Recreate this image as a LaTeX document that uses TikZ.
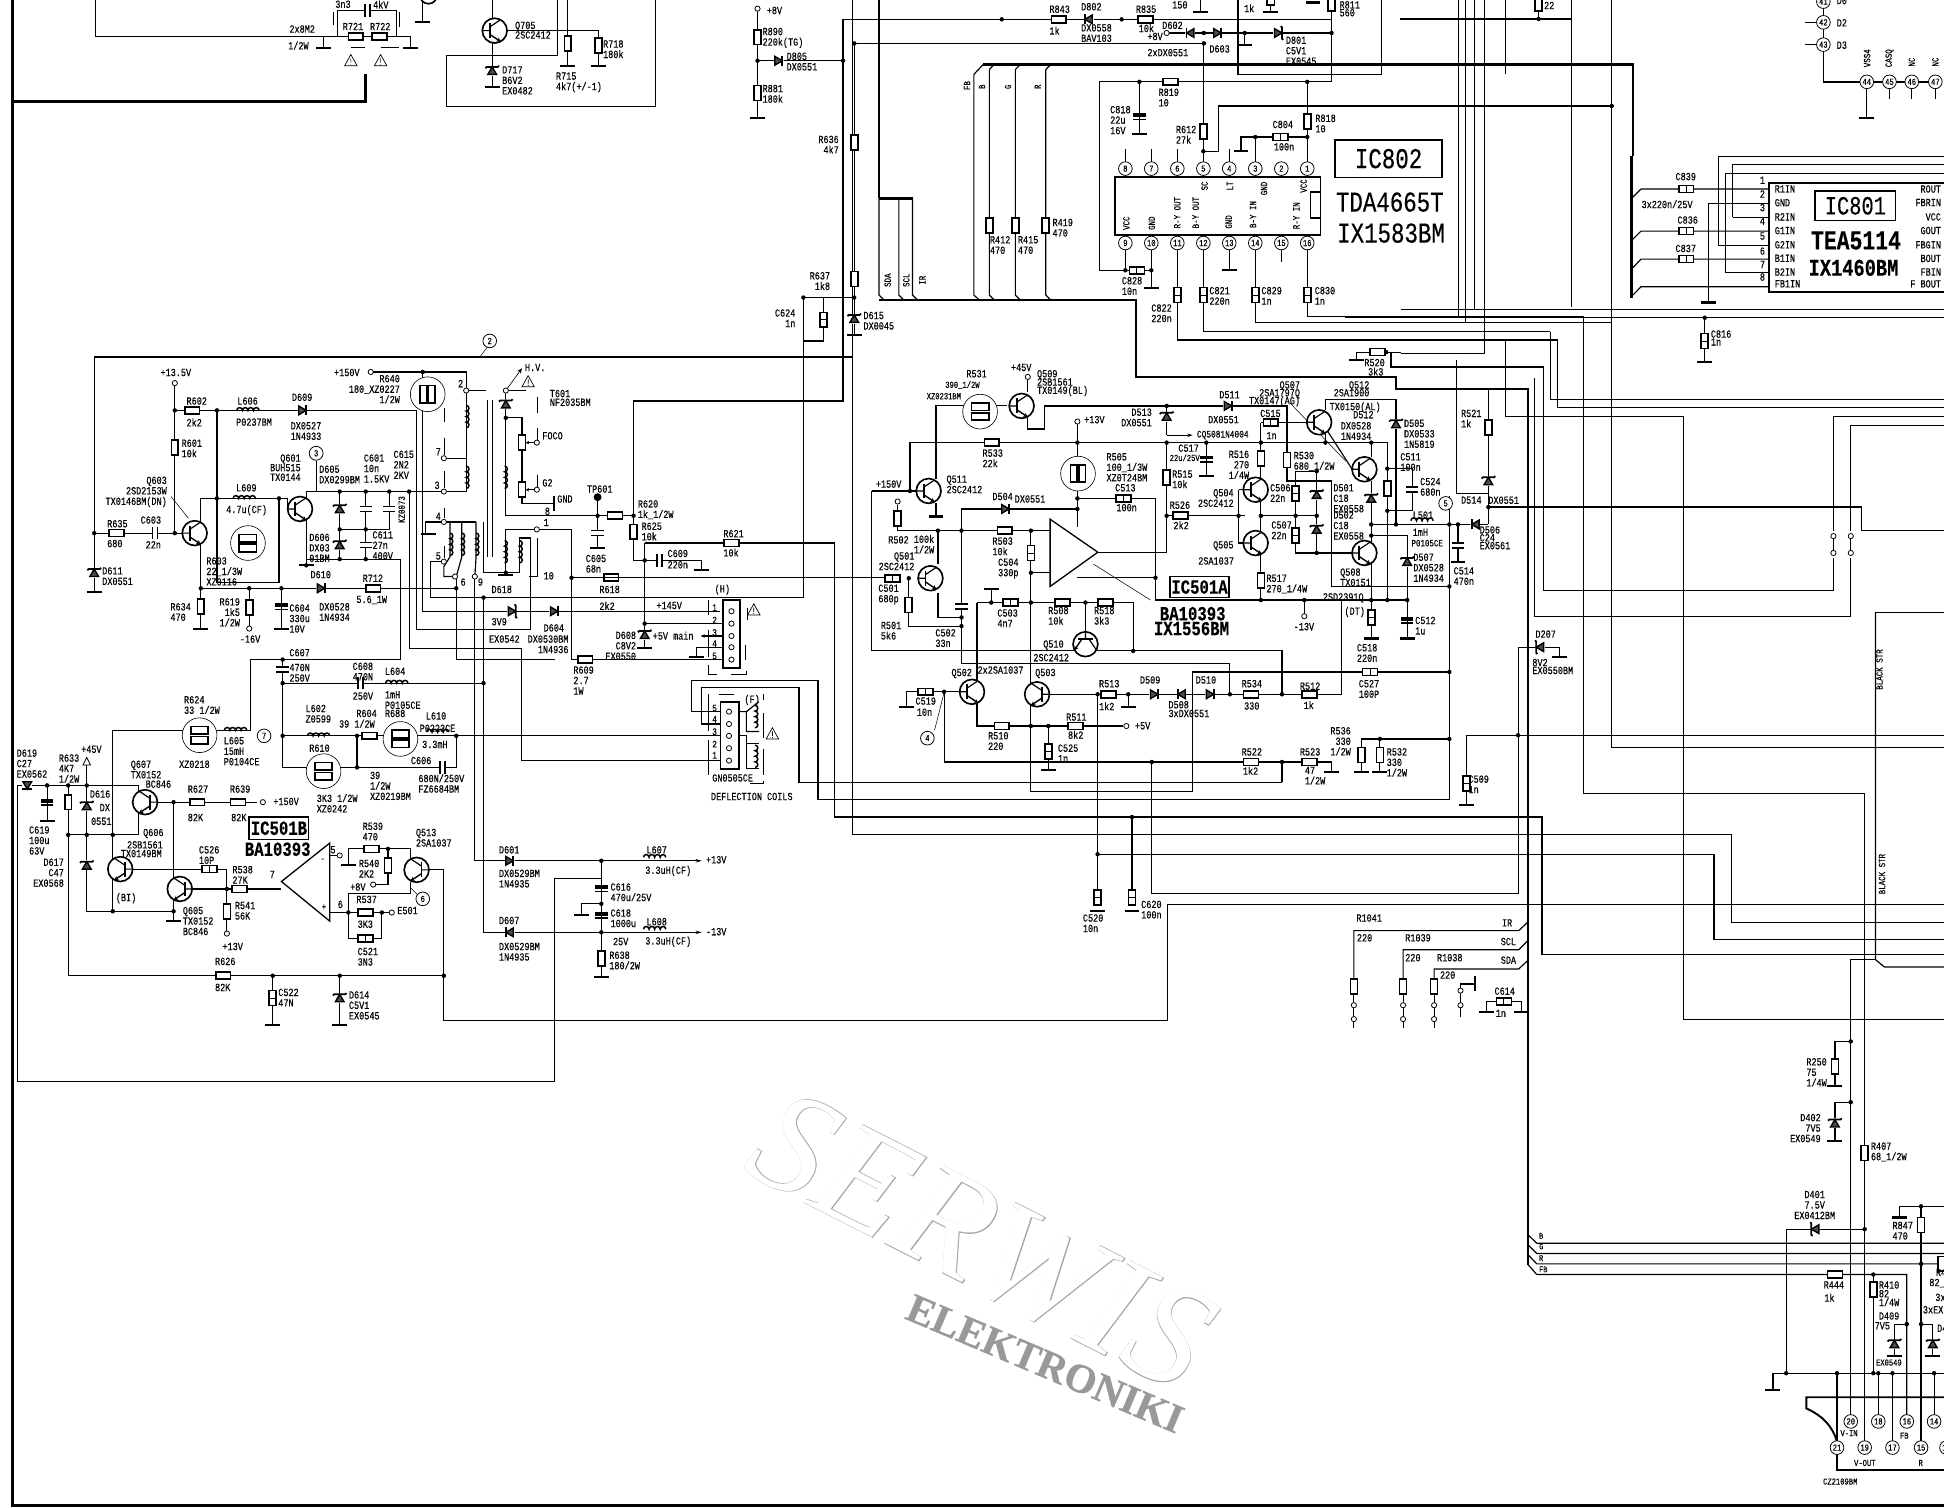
\documentclass[tikz,border=0pt]{standalone}
\usepackage{fontspec}
\setmainfont[FakeStretch=.78,FakeBold=.3]{Liberation Mono}
\newfontfamily\markfont[Scale=1,FakeBold=.6]{Liberation Serif}
\newfontfamily\markthin{Liberation Serif}
\usetikzlibrary{arrows.meta}

\begin{document}
\begin{tikzpicture}[
    x=.5mm, y=-.5mm, line width=1.35pt,
    lbl/.style={inner sep=0pt, anchor=north west, align=left, font=\fontsize{12.5}{12}\selectfont},
    lblr/.style={lbl, anchor=north east, align=right},
    lblc/.style={lbl, anchor=north, align=center},
    rlbl/.style={inner sep=0pt, rotate=90, font=\fontsize{11}{11}\selectfont},
    pinc/.style={circle, draw, fill=white, inner sep=0pt, minimum size=5.5mm, line width=.9pt, font=\fontsize{10.5}{10}\selectfont},
    bigbox/.style={draw, line width=1.8pt, inner sep=0pt, fill=white},
    biglbl/.style={inner sep=0pt, font=\fontsize{33}{33}\selectfont},
    boldlbl/.style={inner sep=0pt, font=\fontsize{23}{23}\selectfont\bfseries},
    comp/.style={draw, fill=white, line width=1.9pt},
    leader/.style={line width=.6pt},
    hair/.style={line width=.7pt},
    bus/.style={line width=2.6pt},
    resh/.pic={\path[comp] (-6,-2.8) rectangle (6,2.8);},
    resv/.pic={\path[comp] (-2.8,-6) rectangle (2.8,6);},
    caph/.pic={\path[comp] (-6,-2.8) rectangle (6,2.8); \draw[line width=1pt] (0,-2.8) -- (0,2.8);},
    capv/.pic={\path[comp] (-2.8,-6) rectangle (2.8,6); \draw[line width=1pt] (-2.8,0) -- (2.8,0);},
    plateh/.pic={\fill[white] (-2,-5) rectangle (2,5); \draw[line width=1.9pt] (-2,-5) -- (-2,5) (2,-5) -- (2,5);},
    platev/.pic={\fill[white] (-5,-2) rectangle (5,2); \draw[line width=1.9pt] (-5,-2) -- (5,-2) (-5,2) -- (5,2);},
    elcap/.pic={\fill (-5,-2.5) rectangle (5,.5); \draw[line width=1.9pt] (-5,2.5) -- (5,2.5);},
    gnd/.pic={\draw[line width=2.4pt] (-6,0) -- (6,0);},
    diode/.pic={\fill[white] (-4,-4) rectangle (4,4); \draw[line width=1.6pt, fill=black!70] (-3,-3.5) -- (3,0) -- (-3,3.5) -- cycle; \draw[line width=2pt] (3,-4) -- (3,4);},
    zener/.pic={\fill[white] (-4,-5) rectangle (4,5); \draw[line width=1.6pt, fill=black!70] (-3,-3.5) -- (3,0) -- (-3,3.5) -- cycle; \draw[line width=2pt] (2,-5.5) -- (3,-4.5) -- (3,4.5) -- (4,5.5);},
    trans/.pic={\draw[fill=white, line width=1.9pt] (0,0) circle[radius=10]; \draw[line width=2.2pt] (-4,-6) -- (-4,6); \draw (-10,0) -- (-4,0) (-4,-3) -- (5,-9); \draw[-{Stealth[length=5pt,width=5pt]}, line width=1.6pt] (-4,3) -- (5,9);},
    coilv/.pic={\draw[line width=1.7pt] (0,-9) foreach \turn in {1,2,3,4} {arc[start angle=-90, end angle=90, radius=2.25]};},
    coilh/.pic={\draw[line width=1.7pt] (-9,0) foreach \turn in {1,2,3,4} {arc[start angle=-180, end angle=0, radius=2.25]};},
    fuseh/.pic={\draw[fill=white, line width=.7pt] (0,0) circle[radius=14]; \path[comp] (-7,-7) rectangle (7,-1); \path[comp] (-7,1) rectangle (7,7);},
    fusev/.pic={\draw[fill=white, line width=.7pt] (0,0) circle[radius=14]; \path[comp] (-6,-7) rectangle (-.7,7); \path[comp] (.7,-7) rectangle (6,7);},
    term/.pic={\draw[fill=white, line width=.9pt] (0,0) circle[radius=2.1];},
    warn/.pic={\draw[line width=.8pt] (-5,4) -- (0,-5) -- (5,4) -- cycle (0,-2) -- (0,1.5) (0,2.5) -- (0,3.2);},
]
\useasboundingbox (0,0) rectangle (1568,1216);
\clip (0,0) rectangle (1568,1216);

% === Frame ===
\draw[line width=3.4pt] (10,0) -- (10,1214) -- (1568,1214);
\draw[line width=3.4pt] (10,82) -- (295,82) -- (295,60);

% === Long wires ===
\draw (76,288) -- (687.5,288);
\draw (76,288) -- (76,477);
\draw (687.5,0) -- (687.5,673) -- (1396.5,673) -- (1396.5,744) -- (1568,744);
\draw (680,15.6) -- (680,323.4) -- (511,323.4) -- (511,452) -- (520,452);
\draw (680,15.6) -- (1074,15.6);
\draw (689,35) -- (971,35);
\draw (648,240) -- (648,482) -- (347,482) -- (347,453) -- (358,453);
\draw (341,300) -- (341,493) -- (581,493);
\draw (336,331) -- (336,508) -- (428,508) -- (428,434) -- (419,434);
\draw (330,396.5) -- (330,523) -- (420.7,523) -- (420.7,613.5) -- (588,613.5);
\draw (368,465) -- (368,532) -- (448,532);
\draw (461,427) -- (461,532) -- (582,532);
\draw (383,465) -- (383,694.3) -- (485,694.3);
\draw (390,482) -- (390,752) -- (485,752);
\draw (228,593.5) -- (588,593.5);
\draw (520,438) -- (673,438) -- (673,659) -- (1243.8,659) -- (1243.8,769.6) -- (1568,769.6);
\draw (557.6,574) -- (557.6,549) -- (659.8,549) -- (659.8,645) -- (1169,645);
\draw (557.6,574) -- (588,574);
\draw (565.7,584) -- (565.7,554.6) -- (644.4,554.6) -- (644.4,631) -- (1034,631);
\draw (565.7,584) -- (588,584);
\draw (14.3,633.5) -- (14.3,872) -- (447,872) -- (447,708.3) -- (485,708.3);
\draw (358,701.6) -- (358,823) -- (942,823) -- (942,729.4) -- (1568,729.4);
\draw (929,614.6) -- (929,721) -- (1224.5,721) -- (1224.5,522);
\draw (885.3,560) -- (885.3,724);
\draw (913,659) -- (913,724);
\draw (885.3,689) -- (1382.5,689) -- (1382.5,758) -- (1568,758);
\draw (1183,593) -- (1568,593);
\draw (703,396) -- (703,525) -- (1034,525) -- (1034,560);
\draw (775.5,410.5) -- (775.5,535) -- (992,535) -- (992,560);
\draw (831.5,428) -- (831.5,638.4) -- (962,638.4) -- (962,542) -- (1169,542);
\draw (1169,400) -- (1169,645);
\draw (761.5,558) -- (761.5,614.6) -- (1074,614.6) -- (1074,622);
\draw (1034,614.6) -- (1034,631);

% === Right side wires ===
\draw (1200.5,409) -- (1501.4,409) -- (1501.4,427.8) -- (1568,427.8);
\draw (1214.5,274.2) -- (1214.5,336) -- (1358,336) -- (1358,822) -- (1568,822);
\draw (1250.5,267.5) -- (1250.5,322) -- (1568,322);
\draw (1256.5,274.2) -- (1256.5,329) -- (1568,329);
\draw (1245,300) -- (1245,476) -- (1478.8,476) -- (1478.8,450);
\draw (1478.8,428) -- (1478.8,336) -- (1568,336);
\draw (1238,305) -- (1238,497) -- (1492.8,497) -- (1492.8,450);
\draw (1492.8,428) -- (1492.8,343) -- (1568,343);
\draw (1277.5,255) -- (1277.5,640) -- (1504,640) -- (1504,1167);
\draw (1300,0) -- (1300,603) -- (1568,603);
\draw (1512.7,494) -- (1512.7,774) -- (1520,780) -- (1568,780);
\draw (1568,494) -- (1512.7,494);
\draw (1492.8,1146) -- (1492.8,774) -- (1512.7,774);
\draw (983,122) -- (983,85.5) -- (1300,85.5);
\draw (1267.7,0) -- (1267.7,15.3) -- (1129,15.3);
\draw (1267.7,15.3) -- (1267.7,248);
\draw (1130,249.3) -- (1568,249.3);
\draw (1085,256.3) -- (1568,256.3);
\draw (1176.6,0) -- (1176.6,256.3);
\draw (1182,0) -- (1182,260);
\draw (1189,0) -- (1189,249.3);
\draw (1197.6,0) -- (1197.6,285);
\draw (1214.4,0) -- (1214.4,60);
\draw (1130,285) -- (1197.6,285);
\draw (1054.4,201) -- (1054.4,255) -- (1277.5,255);
\draw (1012.5,201) -- (1012.5,260) -- (1300,260);
\draw (970.6,201) -- (970.6,267.5) -- (1250.5,267.5);
\draw (949.6,201) -- (949.6,274.2) -- (1256.5,274.2);
\draw (1118,284) -- (1122,284) -- (1122,296) -- (1245,296) -- (1245,300);
\draw (1094,284) -- (1130,284);
\draw (1175,290) -- (1175,398) -- (1200.5,398);

% === Buses ===
\draw[bus] (793,52) -- (1317,52) -- (1317,126);
\draw[bus] (1316,126) -- (1316,240.7);
\draw[bus] (709,0) -- (709,160);
\draw[bus] (709,160) -- (736,160);
\draw (709,160) -- (709,238) -- (713,242);
\draw (725,160) -- (725,238) -- (729,242);
\draw (736,160) -- (736,238) -- (740,242);
\draw[bus] (709,242) -- (916,242) -- (916,304) -- (1126,304) -- (1126,314) -- (1232.5,314) -- (1232.5,1020);
\draw (785.5,60) -- (793,52);
\draw (785.5,60) -- (785.5,238) -- (790,242);
\draw (798,56) -- (802,52);
\draw (798,56) -- (798,238) -- (802,242);
\draw (819,56) -- (823,52);
\draw (819,56) -- (819,238) -- (823,242);
\draw (843.5,56) -- (847.5,52);
\draw (843.5,56) -- (843.5,238) -- (847.5,242);
\draw (1232.5,996) -- (1239.5,1002.7) -- (1568,1002.7);
\draw (1232.5,1004) -- (1239.5,1011) -- (1568,1011);
\draw (1232.5,1012) -- (1239.5,1019.4) -- (1568,1019.4);
\draw (1232.5,1020) -- (1239.5,1028) -- (1538,1028) -- (1538,1141);
\draw (1092,795) -- (1092,750.6) -- (1225,750.6) -- (1232,744);
\draw (1131.7,795) -- (1131.7,766) -- (1225,766) -- (1232,759);
\draw (1156.7,795) -- (1156.7,781.5) -- (1225,781.5) -- (1232,775);

% === Top left ===
\draw (77,0) -- (77,29.6) -- (331,29.6) -- (331,39);
\draw (261,29.6) -- (261,39);
\draw (272,29.6) -- (272,8.6) -- (320,8.6) -- (320,29.6);
\draw (341,0) -- (341,17);
\draw (397,0) -- (397,70);
\draw (405,24.7) -- (482.7,24.7) -- (482.7,53);
\draw (458,0) -- (458,53);
\draw (360,45) -- (449.6,45) -- (449.6,0);
\draw (360,45) -- (360,85.7) -- (528.6,85.7) -- (528.6,0);
\pic (R721) at (287,29.6) {resh};
\pic (R722) at (306,29.6) {resh};
\pic (C7a) at (296.6,8.6) {plateh};
\pic (gL) at (261,39) {gnd};
\pic (gR) at (331,39) {gnd};
\pic (g7a) at (341,17.5) {gnd};
\draw[fill=white, line width=1.9pt] (345.6,-4) circle[radius=7];
\pic (Q705) at (399,24.7) {trans};
\pic[rotate=90] (D717) at (397,57) {zener};
\pic (g717) at (397,70) {gnd};
\pic (R715) at (458,35) {resv};
\pic (R718) at (482.7,36.5) {resv};
\pic (g715) at (458,53) {gnd};
\pic (g718) at (482.7,53) {gnd};
\pic (w1) at (283,49) {warn};
\pic (w2) at (307,49) {warn};
\draw[hair] (283,38) -- (294,38) (307,38) -- (322,38);
\draw[hair] (269,10) -- (269,20) (322,10) -- (322,22);
\node[lbl] (t3n3) at (270,0) {3n3};
\node[lbl] (t4kV) at (300.5,0) {4kV};
\node[lbl] (tR721) at (276,18) {R721};
\node[lbl] (tR722) at (298,18) {R722};
\node[lbl] (t2x8M2) at (233,20) {2x8M2};
\node[lbl] (t12W) at (232,33) {1/2W};
\node[lbl] (tQ705) at (415,17) {Q705\\[-1pt]2SC2412};
\node[lbl] (tD717) at (404.6,53) {D717\\B6V2\\EX0482};
\node[lbl] (tR715) at (448,58) {R715\\4k7(+/-1)};
\node[lbl] (tR718) at (486,32) {R718\\180k};

% === R890 group ===
\draw (611,9) -- (611,95);
\draw (611,49) -- (680,49);
\pic (c890) at (611,7) {term};
\pic (R890) at (611,30) {resv};
\pic (D805) at (628,49) {diode};
\pic (R881) at (611,75) {resv};
\pic (g881) at (611,95) {gnd};
\node[lbl] (t8V) at (618,5) {+8V};
\node[lbl] (tR890) at (614.6,22) {R890\\220k(TG)};
\node[lbl] (tD805) at (634,42) {D805\\DX0551};
\node[lbl] (tR881) at (614.6,68) {R881\\180k};

% === R636 group ===
\draw (689,35) -- (689,270);
\draw (648,240) -- (689,240);
\draw (664,240) -- (664,275) -- (648,275);
\pic (R636) at (689,115) {resv};
\pic (R637) at (689,225) {resv};
\pic (C624) at (664,258) {capv};
\pic[rotate=90] (D615) at (689,257) {zener};
\pic (g615) at (689,270) {gnd};
\node[lblr] (tR636) at (677,109) {R636\\4k7};
\node[lblr] (tR637) at (670,219) {R637\\1k8};
\node[lblr] (tC624) at (642,249) {C624\\1n};
\node[lbl] (tD615) at (696,251) {D615\\DX0045};
\node[rlbl] (tSDA) at (716,226) {SDA};
\node[rlbl] (tSCL) at (731,226) {SCL};
\node[rlbl] (tIR) at (744,226) {IR};

% === Horizontal output stage ===
\draw (141,311) -- (141,430);
\draw (76,430) -- (147,430);
\draw (141,331) -- (336,331);
\draw (175,331) -- (175,470) -- (225,470) -- (225,402);
\draw (162,402) -- (232,402);
\draw (162,402) -- (162,507);
\draw (232,402) -- (232,410.5);
\draw (162,474.5) -- (368,474.5);
\draw (201,474.5) -- (201,505);
\draw (227,474.5) -- (227,507);
\draw (247,396.5) -- (376,396.5);
\draw (247,396.5) -- (247,456);
\draw (247,451) -- (323,451) -- (323,532) -- (202,532);
\draw (274,396.5) -- (274,451);
\draw (295,396.5) -- (295,451);
\draw (314,396.5) -- (314,427) -- (274,427);
\draw (255,372) -- (255,396.5);
\draw[leader] (138,400.5) -- (152,418);
\pic (R602) at (155,331) {resh};
\pic (R601) at (141,361) {resv};
\pic (c135) at (141,309) {term};
\pic (L606) at (200,331) {coilh};
\pic (D609) at (244,331) {diode};
\pic (R635) at (94,430) {resh};
\pic (C603) at (125,430) {plateh};
\pic (Q603) at (157,430) {trans};
\pic[rotate=90] (D611) at (76,462) {zener};
\pic (g611) at (76,477.6) {gnd};
\pic (L609) at (197,402) {coilh};
\pic (R609a) at (200,438) {fuseh};
\pic (Q601) at (242,410.5) {trans};
\pic[rotate=90] (D605) at (274,410.5) {zener};
\pic[rotate=90] (D606) at (274,439.5) {zener};
\pic (C601) at (295,410.5) {platev};
\pic (C615) at (314,410.5) {platev};
\pic (C611) at (295,439.5) {platev};
\pic (g601) at (247,456) {gnd};
\pic (D610) at (259,474.5) {diode};
\pic (R712) at (301,474.5) {resh};
\pic (R634) at (162,489) {resv};
\pic (g634) at (162,507) {gnd};
\pic (R619) at (201,490) {resv};
\pic (c16) at (201,507) {term};
\pic (C604) at (227,489) {elcap};
\pic (g604) at (227,507) {gnd};
\node[pinc, minimum size=5.6mm] (n3) at (255,365.6) {3};
\node[lbl] (t135) at (129,297) {+13.5V};
\node[lbl] (tR602) at (150,320) {R602};
\node[lbl] (t2k2) at (150,337) {2k2};
\node[lbl] (tL606) at (191,320) {L606};
\node[lbl] (tP0237) at (190,337) {P0237BM};
\node[lbl] (tD609) at (235,317) {D609};
\node[lbl] (tDX0527) at (234,340) {DX0527\\1N4933};
\node[lbl] (tR601) at (146,354) {R601\\10k};
\node[lblr] (tQ601) at (243,366) {Q601\\[-1pt]BUH515\\[-1pt]TX0144};
\node[lbl] (tD605) at (257,375) {D605\\DX0299BM};
\node[lbl] (tC601) at (293,366) {C601\\10n\\1.5KV};
\node[lbl] (tC615) at (317,363) {C615\\2N2\\2KV};
\node[lbl] (tL609) at (190,390) {L609};
\node[lbl] (t47u) at (182,407) {4.7u(CF)};
\node[rlbl] (tKZ) at (324,411) {KZ0073};
\node[lblr] (tQ603) at (135,384) {Q603\\2SD2153W\\TX0146BM(DN)};
\node[lbl] (tR635) at (86,419) {R635};
\node[lbl] (t680) at (86,435) {680};
\node[lbl] (tC603) at (113,416) {C603};
\node[lbl] (t22n) at (117,436) {22n};
\node[lbl] (tD611) at (82,457) {D611\\DX0551};
\node[lbl] (tR603) at (166,449) {R603\\22\_1/3W\\XZ0116};
\node[lbl] (tD606) at (249,430) {D606\\DX03\\01BM};
\node[lbl] (tC611) at (300,428) {C611\\27n\\400V};
\node[lbl] (tD610) at (250,460) {D610};
\node[lbl] (tR712) at (292,463) {R712};
\node[lbl] (t56) at (287,480) {5.6\_1W};
\node[lbl] (tR634) at (137,486) {R634\\470};
\node[lblr] (tR619) at (194,482) {R619\\1k5\\1/2W};
\node[lbl] (tC604) at (233,487) {C604\\ 330u\\ 10V};
\node[lbl] (tDX0528) at (257,486) {DX0528\\1N4934};
\node[lbl] (t16V) at (193,512) {-16V};

% === Flyback T601 ===
\draw (301,300) -- (376,300) -- (376,396.5);
\draw (358,369.6) -- (376,369.6);
\draw (408,315) -- (408,416);
\draw (408,337) -- (421,337) -- (421,406) -- (447,406);
\draw (408,416) -- (511,416);
\draw (482,401) -- (482,442);
\draw (343,431) -- (343,421) -- (384,421);
\draw (390,421) -- (390,462) -- (419,462) -- (419,434);
\draw (408,427) -- (408,462);
\draw (408,427) -- (461,427);
\draw (363,421) -- (363,449) -- (358,457) -- (358,465) -- (368,465);
\draw (372.5,421) -- (372.5,449) -- (368,465);
\draw (384,421) -- (384,449) -- (383,465);
\draw[hair] (393,323) -- (393,449) (397,323) -- (397,449);
\draw[hair] (358,329) -- (358,340) (358,353) -- (358,367) (358,380) -- (358,394) (358,410) -- (358,418) (358,440) -- (358,450);
\draw[hair] (433,320) -- (433,333) (433,345) -- (433,358) (433,383) -- (433,394) (433,434) -- (433,465) -- (427,465);
\draw[hair] (376,315) -- (392,315) (408,315) -- (424,315);
\draw[-{Stealth[length=6pt,width=5pt]}, hair] (408,315) -- (421,297);
\draw[-{Stealth[length=4pt,width=4pt]}, hair] (431,357) -- (424,357);
\draw[-{Stealth[length=4pt,width=4pt]}, hair] (431,395) -- (424,395);
\pic (R640) at (345,318) {fusev};
\pic (c150) at (299,300) {term};
\pic (cp2) at (376,315) {term};
\pic (cp7) at (358,369.6) {term};
\pic (cp3) at (358,396.5) {term};
\pic (cp4) at (358,421) {term};
\pic (cp5) at (358,453) {term};
\pic (cp6) at (367,465) {term};
\pic (cp9) at (383,465) {term};
\pic (cp1) at (433,427) {term};
\pic (cpHV) at (408,315) {term};
\pic (L2a) at (376,336) {coilv};
\pic (L2b) at (376,385) {coilv};
\pic (L4a) at (363,439) {coilv};
\pic (L4b) at (372.5,439) {coilv};
\pic (L4c) at (384,439) {coilv};
\pic (L8a) at (407,385) {coilv};
\pic (L1a) at (407,445) {coilv};
\pic (L1b) at (419,445) {coilv};
\pic[rotate=90] (D6a) at (408,326) {zener};
\pic (RF) at (421,357) {resv};
\pic (RG) at (421,395) {resv};
\pic (cF) at (433,357) {term};
\pic (cG) at (433,395) {term};
\pic[rotate=90] (gGND) at (447,406) {gnd};
\pic (gT1) at (408,464) {gnd};
\pic (gT2) at (345.5,431) {gnd};
\pic (wHV) at (426,308) {warn};
\fill (482,401) circle[radius=3.2];
\pic (C605) at (482,430) {platev};
\pic (g605) at (482,442) {gnd};
\pic (R620) at (496,416) {resh};
\pic (R625) at (511,429) {resv};
\pic (R618) at (493,466) {resh};
\pic (D618) at (413,493) {zener};
\pic (D604) at (447,493) {diode};
\pic (R609) at (472,532) {resh};
\draw (461,466) -- (718,466);
\node[lbl] (t150) at (269,297) {+150V};
\node[lblr] (tR640) at (323,302) {R640\\180\_XZ0227\\1/2W};
\node[lbl] (tp2) at (369,306) {2};
\node[lbl] (tHV) at (423,293) {H.V.};
\node[lbl] (tT601) at (443,314) {T601\\[-2pt]NF2035BM};
\node[lbl] (tFOCO) at (437,348) {FOCO};
\node[lbl] (tp7) at (351,361) {7};
\node[lbl] (tG2) at (437,386) {G2};
\node[lbl] (tp3) at (350,388) {3};
\node[lbl] (tGND) at (449,399) {GND};
\node[lbl] (tp8) at (439,409) {8};
\node[lbl] (tTP601) at (473,391) {TP601};
\node[lbl] (tp4) at (351,413) {4};
\node[lbl] (tp1) at (438,418) {1};
\node[lbl] (tp5) at (351,445) {5};
\node[lbl] (tp10) at (438,461) {10};
\node[lbl] (tp6) at (371,466) {6};
\node[lbl] (tp9) at (385,466) {9};
\node[lbl] (tC605) at (472,447) {C605\\68n};
\node[lbl] (tR620) at (514,403) {R620\\1k\_1/2W};
\node[lbl] (tR625) at (517,421) {R625\\10k};
\node[lbl] (tD618) at (396,472) {D618};
\node[lbl] (t3V9) at (396,498) {3V9};
\node[lbl] (tEX0542) at (394,512) {EX0542};
\node[lbl] (tD604) at (438,503) {D604};
\node[lblr] (tDX0530) at (459,512) {DX0530BM\\1N4936};
\node[lbl] (tR618) at (483,472) {R618};
\node[lbl] (t2k2b) at (483,485) {2k2};
\node[lblr] (tD608) at (513.5,509) {D608\\C8V2\\EX0550};
\node[lbl] (tR609) at (462,537) {R609\\2.7\\1W};

% === Line connector H ===
\draw (520,438) -- (520,523);
\draw (520,452) -- (566,452) -- (566,460);
\draw (520,503) -- (582,503);
\draw[-{Stealth[length=5pt,width=4pt]}] (582,513) -- (565,513);
\draw (582,522) -- (562,522) -- (562,530);
\draw[hair] (571,484) -- (571,496) (571,508) -- (571,530);
\draw[hair] (603,490) -- (603,500) (601,520) -- (601,532);
\draw[hair] (571,536) -- (571,544) -- (578,544) (590,544) -- (602,544) -- (602,541);
\path[comp] (583,484) rectangle (597,539);
\pic (pH1) at (590,493) {term};
\pic (pH2) at (590,503) {term};
\pic (pH3) at (590,513) {term};
\pic (pH4) at (590,522) {term};
\pic (pH5) at (590,532) {term};
\pic[rotate=90] (D608) at (520,512) {zener};
\pic (g608) at (520,523) {gnd};
\pic (C609) at (532,452) {plateh};
\pic (g609) at (566,460) {gnd};
\pic (gH) at (562,530) {gnd};
\pic (R621) at (590,438) {resh};
\pic (wH) at (608,492) {warn};
\node[lbl] (tH) at (576,471) {(H)};
\node[lbl] (t145) at (529,485) {+145V};
\node[lbl] (t5V) at (526,509) {+5V main};
\node[lbl] (tR621) at (583,427) {R621};
\node[lbl] (t10k) at (583,442) {10k};
\node[lbl] (tC609) at (538,443) {C609\\[1pt]220n};
\node[lbl, font=\fontsize{11.5}{10}\selectfont] (tH1) at (574,487) {1};
\node[lbl, font=\fontsize{11.5}{10}\selectfont] (tH2) at (574,497) {2};
\node[lbl, font=\fontsize{11.5}{10}\selectfont] (tH3) at (574,507) {3};
\node[lbl, font=\fontsize{11.5}{10}\selectfont] (tH4) at (574,516) {4};
\node[lbl, font=\fontsize{11.5}{10}\selectfont] (tH5) at (574,526) {5};

% === Deflection coils connector ===
\draw (588,574) -- (602,574) -- (602,590) -- (612,590) (602,574) -- (612,566);
\draw (588,593.5) -- (602,593.5) -- (602,620) -- (612,620) (602,600) -- (612,600);
\draw[hair] (571,560) -- (571,590) (571,597) -- (571,625);
\draw[hair] (580,560) -- (592,560);
\draw[hair] (616,560) -- (616,565) (616,575) -- (616,595) (616,604) -- (616,625);
\draw[hair] (605,632) -- (616,632) -- (616,630);
\path[comp] (581,566) rectangle (596,620);
\pic (pF5) at (588,574) {term};
\pic (pF4) at (588,584) {term};
\pic (pF3) at (588,593.5) {term};
\pic (pF2) at (588,603.5) {term};
\pic (pF1) at (588,613.5) {term};
\pic (LFa) at (609,578) {coilv};
\pic (LFb) at (609,610) {coilv};
\pic (wF) at (623,592) {warn};
\node[lbl] (tF) at (600,560) {(F)};
\node[lbl, font=\fontsize{11.5}{10}\selectfont] (tF5) at (574,568) {5};
\node[lbl, font=\fontsize{11.5}{10}\selectfont] (tF4) at (574,577) {4};
\node[lbl, font=\fontsize{11.5}{10}\selectfont] (tF3) at (574,587) {3};
\node[lbl, font=\fontsize{11.5}{10}\selectfont] (tF2) at (574,597) {2};
\node[lbl, font=\fontsize{11.5}{10}\selectfont] (tF1) at (574,606) {1};
\node[lbl] (tGN) at (574,624) {GN0505CE};
\node[lbl] (tDEF) at (573,639) {DEFLECTION COILS};

% === Linearity and width ===
\draw (202,532) -- (202,589) -- (91,589) -- (91,735);
\draw (228,532) -- (228,619) -- (368,619) -- (368,593.5);
\draw (228,551) -- (390,551);
\draw (288,593.5) -- (288,619);
\pic (C607) at (228,540) {platev};
\pic (C608) at (291,551) {plateh};
\pic (L604) at (320,551) {coilh};
\pic (R624) at (161,593) {fuseh};
\pic (L605) at (190,589) {coilh};
\pic (L602) at (257,593.5) {coilh};
\pic (R604) at (298,593.5) {resh};
\pic (R688) at (323,596) {fuseh};
\pic (L610) at (353,590.5) {coilh};
\pic (R610) at (261,622) {fuseh};
\pic (C606) at (357,619) {plateh};
\node[pinc] (n7) at (213,593.5) {7};
\node[lbl] (tC607) at (233,523) {C607};
\node[lbl] (t470N) at (233,535) {470N\\250V};
\node[lbl] (tC608) at (284,534) {C608\\470N};
\node[lbl] (t250V) at (284,558) {250V};
\node[lbl] (tL604) at (310,538) {L604};
\node[lbl] (t1mH) at (310,557) {1mH\\P0105CE};
\node[lbl] (tL602) at (246,568) {L602\\Z0599};
\node[lbl] (t39) at (273,580) {39 1/2W};
\node[lbl] (tR604) at (287,572) {R604};
\node[lbl] (tR688) at (310,572) {R688};
\node[lbl] (tL610) at (343,574) {L610};
\node[lbl] (tP0223) at (338,584) {P0223CE};
\node[lbl] (tR624) at (148,561) {R624\\33 1/2W};
\node[lbl] (tL605) at (180,594) {L605\\15mH\\P0104CE};
\node[lbl] (tXZ0218) at (144,613) {XZ0218};
\node[lbl] (tR610) at (249,600) {R610};
\node[lbl] (t3K3) at (255,640) {3K3 1/2W\\XZ0242};
\node[lbl] (t33mH) at (340,597) {3.3mH};
\node[lbl] (tC606) at (331,610) {C606};
\node[lbl] (t39b) at (298,622) {39\\1/2W\\XZ0219BM};
\node[lbl] (t680N) at (337,624) {680N/250V\\ FZ6684BM};

% === E-W stage IC501B ===
\draw (14.3,633.5) -- (112,633.5) -- (112,638);
\draw (112,656) -- (112,673.4) -- (55,673.4);
\draw (55,633.5) -- (55,787) -- (358,787);
\draw (38,633.5) -- (38,662);
\draw (70,617) -- (70,735) -- (140,735);
\draw (127,647) -- (207,647);
\draw (140,647) -- (140,708);
\draw (91,692) -- (91,673);
\draw (107,701) -- (183,701) -- (183,752);
\draw (155,717) -- (227,717);
\draw (140,726) -- (140,743);
\draw (281,698) -- (281,684.7) -- (331,684.7) -- (331,692);
\draw (313,684.7) -- (313,713.5) -- (303,713.5);
\draw (346,701.6) -- (358,701.6);
\draw (331,711) -- (331,721) -- (281,721) -- (281,757) -- (308,757) -- (308,736);
\draw (266,736) -- (314,736);
\draw (266,690) -- (272,690);
\draw (220,787) -- (220,827);
\draw (274,787) -- (274,827);
\draw[leader] (331,716) -- (337,722);
\draw[line width=1.5pt, fill=white] (227,711) -- (266,680) -- (266,743) -- cycle;
\pic[rotate=-90] (D619) at (22,633.5) {diode};
\pic (C619) at (38,647) {elcap};
\pic (g619) at (38,662) {gnd};
\pic (R633) at (55,647) {resv};
\pic[rotate=90] (D616) at (70,650) {zener};
\pic[rotate=90] (D617) at (70,698) {zener};
\draw[line width=.9pt, fill=white] (67,617) -- (70,611) -- (73,617) -- cycle;
\pic[xscale=-1] (Q607) at (117,647) {trans};
\pic[xscale=-1] (Q606) at (97,701) {trans};
\pic[xscale=-1] (Q605) at (145,717) {trans};
\pic[xscale=-1] (Q513) at (336,701.6) {trans};
\pic (g605b) at (140,743) {gnd};
\pic (R627) at (159,647) {resh};
\pic (R639) at (192,647) {resh};
\pic (c150b) at (212,647) {term};
\pic (C526) at (169,701) {caph};
\pic (R538) at (193,717) {resh};
\pic (R541) at (183,735) {resv};
\pic (c13) at (183,753) {term};
\pic (c5) at (274,690) {term};
\pic (R539) at (299.5,684.7) {resh};
\pic (g539) at (281,698) {gnd};
\pic (R540) at (313,698) {resv};
\pic (c8) at (301,713.5) {term};
\pic (R537) at (295,736) {resh};
\pic (cE501) at (316,736) {term};
\pic (C521) at (295,757) {caph};
\pic (R626) at (180,787) {resh};
\pic (C522) at (220,805) {capv};
\pic (g522) at (220,827) {gnd};
\pic[rotate=90] (D614) at (274,805) {zener};
\pic (g614) at (274,827) {gnd};
\node[pinc] (n6) at (341,725) {6};
\node[lbl] (tD619) at (13,604) {D619\\C27\\EX0562};
\node[lbl] (tR633) at (47,608) {R633\\4K7\\1/2W};
\node[lbl] (t45V) at (65,601) {+45V};
\node[lbl] (tQ607) at (105,613) {Q607\\TX0152};
\node[lbl] (tBC846) at (117,629) {BC846};
\node[lbl] (tD616) at (72,637) {D616};
\node[lbl] (tDX) at (80,648) {DX};
\node[lbl] (t0551) at (73,659) {0551};
\node[lbl] (tC619) at (23,666) {C619\\100u\\63V};
\node[lbl] (tR627) at (151,633) {R627};
\node[lbl] (tR639) at (185,633) {R639};
\node[lbl] (t82K) at (151,656) {82K};
\node[lbl] (t82Kb) at (186,656) {82K};
\node[lbl] (t150b) at (220,643) {+150V};
\node[lbl] (tQ606) at (115,668) {Q606};
\node[lbl] (t2SB) at (102,678) {2SB1561};
\node[lbl] (tTX0149) at (97,685) {TX0149BM};
\node[lblr] (tD617) at (52,692) {D617\\C47\\EX0568};
\node[lbl] (tC526) at (160,682) {C526\\ 10P};
\node[lbl] (tR538) at (187,698) {R538\\27K};
\node[lbl] (tBI) at (93,720) {(BI)};
\node[bigbox, minimum width=24mm, minimum height=9mm, boldlbl] (IC501B) at (225,668) {IC501B};
\node[boldlbl] (tBA) at (224,685) {BA10393};
\node[lbl] (tR539) at (292,663) {R539\\470};
\node[lbl] (tR540) at (289,693) {R540\\2K2};
\node[lbl] (t8Vb) at (282,712) {+8V};
\node[lbl] (tQ513) at (335,668) {Q513\\2SA1037};
\node[lbl] (tp5b) at (266,682) {5};
\node[lbl] (tp7b) at (217,702) {7};
\node[lbl] (tp6b) at (272,726) {6};
\node[lbl] (tR537) at (287,722) {R537};
\node[lbl] (t3K3b) at (288,742) {3K3};
\node[lbl] (tE501) at (320,731) {E501};
\node[lbl] (tC521) at (288,764) {C521\\3N3};
\node[lbl] (tR541) at (189,727) {R541\\56K};
\node[lbl] (t13V) at (179,760) {+13V};
\node[lbl] (tQ605) at (147,731) {Q605\\TX0152\\BC846};
\node[lbl] (tR626) at (173,772) {R626};
\node[lbl] (t82Kc) at (173,793) {82K};
\node[lbl] (tC522) at (224,797) {C522\\47N};
\node[lbl] (tD614) at (281,799) {D614\\C5V1\\EX0545};
\node[lbl, font=\fontsize{11}{11}\selectfont] (tminus) at (258,692) {-};
\node[lbl, font=\fontsize{11}{11}\selectfont] (tplus) at (259,729) {+};

% === Supply rectifiers ===
\draw (485,694.3) -- (485,788);
\draw (469,738) -- (469,729) -- (485,729);
\draw[-{Stealth[length=7pt,width=4pt]}] (485,694.3) -- (566,694.3);
\draw[-{Stealth[length=7pt,width=4pt]}] (485,752) -- (566,752);
\pic (D601) at (411,694.3) {diode};
\pic[rotate=180] (D607) at (411,752) {diode};
\pic (C616) at (485,716.5) {elcap};
\pic (C618) at (485,738) {elcap};
\pic (R638) at (485,773) {resv};
\pic (g638) at (485,788) {gnd};
\pic (g616) at (469,738) {gnd};
\pic (L607) at (528,691.5) {coilh};
\pic (L608) at (528,749.5) {coilh};
\node[lbl] (tD601) at (402,682) {D601};
\node[lbl] (tDX0529) at (402,701) {DX0529BM\\1N4935};
\node[lbl] (tD607) at (402,739) {D607};
\node[lbl] (tDX0529b) at (402,760) {DX0529BM\\1N4935};
\node[lbl] (tL607) at (521,682) {L607};
\node[lbl] (t33uH) at (520,698) {3.3uH(CF)};
\node[lbl] (tL608) at (521,740) {L608};
\node[lbl] (t33uHb) at (520,755) {3.3uH(CF)};
\node[lbl] (t13Vb) at (569,690) {+13V};
\node[lbl] (tm13V) at (569,748) {-13V};
\node[lbl] (t25V) at (494,756) {25V};
\node[lbl] (tC616) at (492,712) {C616\\470u/25V};
\node[lbl] (tC618) at (492,733) {C618\\1000u};
\node[lbl] (tR638) at (491,767) {R638\\180/2W};

% === IC802 ===
\draw (886.5,66) -- (1074,66) -- (1074,0);
\draw (886.5,66) -- (886.5,218) -- (928.6,218);
\draw (919,66) -- (919,108);
\draw (907.7,141) -- (907.7,120.4) (928.6,141) -- (928.6,120.4) (949.6,141) -- (949.6,120.4) (991.5,141) -- (991.5,120.4);
\draw (970.6,35) -- (970.6,141);
\draw (970.6,122) -- (983,122);
\draw (1012.5,141) -- (1012.5,110.5) -- (1054.4,110.5);
\draw (1012.5,110.5) -- (1001,110.5) -- (1001,122);
\draw (1054.4,66) -- (1054.4,141);
\draw (907.7,201) -- (907.7,218);
\draw (928.6,201) -- (928.6,232);
\draw (991.5,201) -- (991.5,218);
\draw (1033.5,201) -- (1033.5,211);
\draw (941,26.6) -- (1074,26.6);
\draw (1004,26.6) -- (1004,36);
\draw (998.5,0) -- (998.5,60) -- (1114,60) -- (1114,0);
\draw[line width=2pt] (899.6,143) rectangle (1065,189.5);
\path[comp] (1057,154.6) rectangle (1065,176);
\pic (R819) at (944,66) {resh};
\pic (C818) at (919,94) {elcap};
\pic (g818) at (919,108) {gnd};
\pic (R612) at (970.6,106) {resv};
\pic (R818) at (1054.4,98) {resv};
\pic (C804) at (1033,110.5) {caph};
\pic (g804) at (1001,122) {gnd};
\pic (C828) at (917,218) {caph};
\pic (g828) at (928.6,232.5) {gnd};
\pic (g13) at (991.5,218) {gnd};
\pic (C822) at (949.6,238) {capv};
\pic (C821) at (970.6,238) {capv};
\pic (C829) at (1012.5,238) {capv};
\pic (C830) at (1054.4,238) {capv};
\pic (R412) at (798,182) {resv};
\pic (R415) at (819,182) {resv};
\pic (R419) at (843.5,182) {resv};
\node[pinc] (pin1) at (1054.4,136) {1};
\node[pinc] (pin2) at (1033.5,136) {2};
\node[pinc] (pin3) at (1012.5,136) {3};
\node[pinc] (pin4) at (991.5,136) {4};
\node[pinc] (pin5) at (970.6,136) {5};
\node[pinc] (pin6) at (949.6,136) {6};
\node[pinc] (pin7) at (928.6,136) {7};
\node[pinc] (pin8) at (907.7,136) {8};
\node[pinc] (pin9) at (907.7,196) {9};
\node[pinc] (pin10) at (928.6,196) {10};
\node[pinc] (pin11) at (949.6,196) {11};
\node[pinc] (pin12) at (970.6,196) {12};
\node[pinc] (pin13) at (991.5,196) {13};
\node[pinc] (pin14) at (1012.5,196) {14};
\node[pinc] (pin15) at (1033.5,196) {15};
\node[pinc] (pin16) at (1054.4,196) {16};
\node[rlbl] (sSC) at (971.6,150) {SC};
\node[rlbl] (sLT) at (992,150) {LT};
\node[rlbl] (sGNDa) at (1019.5,152) {GND};
\node[rlbl] (sVCCa) at (1051.5,150) {VCC};
\node[rlbl] (sRYO) at (949.6,171.5) {R-Y OUT};
\node[rlbl] (sBYO) at (964.4,171.5) {B-Y OUT};
\node[rlbl] (sBYI) at (1010.6,173) {B-Y IN};
\node[rlbl] (sRYI) at (1045.6,174) {R-Y IN};
\node[rlbl] (sVCCb) at (908.5,180) {VCC};
\node[rlbl] (sGNDb) at (929,180) {GND};
\node[rlbl] (sGNDc) at (991,179) {GND};
\node[bigbox, minimum width=43mm, minimum height=15mm, biglbl] (IC802) at (1120,128) {IC802};
\node[biglbl] (tTDA) at (1121,163) {TDA4665T};
\node[biglbl] (tIX) at (1122,188) {IX1583BM};
\node[rlbl] (sFB) at (780,69) {FB};
\node[rlbl] (sB) at (792,70) {B};
\node[rlbl] (sG) at (813,70) {G};
\node[rlbl] (sR) at (837,70) {R};
\node[lbl] (tR412) at (798,190) {R412\\ 470};
\node[lbl] (tR415) at (820.6,190) {R415\\470};
\node[lbl] (tR419) at (848.5,176) {R419\\470};
\node[lbl] (tC818) at (895,85) {C818\\22u\\16V};
\node[lbl] (tR819) at (934,71) {R819\\ 10};
\node[lbl] (tR612) at (948,101) {R612\\27k};
\node[lbl] (tC804) at (1026,97) {C804};
\node[lbl] (t100n) at (1027,115) {100n};
\node[lbl] (tR818) at (1060.5,92) {R818\\10};
\node[lbl] (tC828) at (904.4,223) {C828\\ 10n};
\node[lblr] (tC822) at (945.6,245) {C822\\220n};
\node[lbl] (tC821) at (975,231) {C821\\220n};
\node[lbl] (tC829) at (1017,231) {C829\\1n};
\node[lbl] (tC830) at (1060,231) {C830\\1n};

% === Top row ===
\pic (R843) at (854,15.6) {resh};
\pic[rotate=180] (D802) at (878,15.6) {diode};
\pic (R835) at (924,15.6) {resh};
\pic (c8c) at (941,26.6) {term};
\pic[rotate=180] (D602) at (960,26.6) {diode};
\pic (D603) at (982,26.6) {diode};
\pic (D801) at (1031,26.6) {zener};
\pic (g801) at (1004,36) {gnd};
\pic (R811) at (1074,3) {resv};
\draw (968,0) -- (968,10) (1025,0) -- (1025,10);
\pic (g150) at (968,10) {gnd};
\pic (g1k) at (1025,10) {gnd};
\path[comp] (1022,-3) rectangle (1028,4);
\pic (g560) at (1059,2) {gnd};
\pic (R22) at (1241,3) {resv};
\draw (1241,8) -- (1241,15.3);
\node[lbl] (tR843) at (846,4) {R843};
\node[lbl] (t1k) at (846,21) {1k};
\node[lbl] (tD802) at (871.6,2) {D802};
\node[lbl] (tDX0558) at (871.6,19) {DX0558\\BAV103};
\node[lbl] (tR835) at (915.7,4) {R835};
\node[lbl] (t10kb) at (918,19) {10k};
\node[lbl] (tD602) at (937,17) {D602};
\node[lbl] (t8Vc) at (925,26) {+8V};
\node[lbl] (t2xDX) at (925,39) {2xDX0551};
\node[lbl] (tD603) at (975,36) {D603};
\node[lbl] (tD801) at (1036.7,29) {D801\\C5V1\\EX0545};
\node[lbl] (t150c) at (945,.5) {150};
\node[lbl] (t1kb) at (1003,3) {1k};
\node[lbl] (tR811) at (1080,.5) {R811\\[-3pt] 560};
\node[lbl] (t22) at (1245,1) {22};

% === IC501A vertical stage ===
\draw (755,327) -- (812,327);
\draw (755,327) -- (755,386);
\draw (829,306) -- (829,316);
\draw (829,337) -- (829,346) -- (842.5,346) -- (842.5,327.4) -- (1038,327.4) -- (1038,388) -- (1074,388);
\draw (941,327.4) -- (941,345) -- (941,351);
\draw[-{Stealth[length=6pt,width=4pt]}, line width=.9pt] (941,351) -- (962,351);
\draw (734,396) -- (734,357) -- (1119,357) -- (1119,484);
\draw (703,396) -- (739,396);
\draw (755,406) -- (755,416.6);
\draw (724,407) -- (724,428) -- (847,428);
\draw (775.5,410.5) -- (869,410.5);
\draw (756.5,428) -- (756.5,455);
\draw (756.5,478) -- (756.5,498) -- (775.5,498);
\draw (733,466) -- (733,505) -- (775.5,505);
\draw (831.5,462) -- (847,462);
\draw (869,342) -- (869,425);
\draw (869,402) -- (932,402) -- (932,484) -- (1135,484);
\draw (869,465) -- (869,466) -- (932,466);
\draw (885.5,445.4) -- (941,445.4) -- (941,357);
\draw (941,416) -- (1004,416);
\draw (999,395) -- (1003,395);
\draw (999,395) -- (999,438) -- (1003,438);
\draw (788,486) -- (914,486) -- (914,525);
\draw (799.5,486) -- (799.5,475);
\draw (875.5,486) -- (875.5,510);
\draw (885,525) -- (914,525);
\draw (788,486) -- (788,549);
\draw (731,570) -- (731,558) -- (775,558);
\draw (788,568) -- (788,585.6) -- (906,585.6);
\draw (845.5,585.6) -- (845.5,620.8);
\draw (846,560) -- (1082,560) -- (1082,484);
\draw (910,560) -- (910,570);
\draw (1017,341) -- (1017,484);
\draw (1017,341) -- (1054,341);
\draw (1045,380) -- (1045,446) -- (1091,446);
\draw (1045,380) -- (1062,380) -- (1062,446);
\draw (1017,416) -- (1062,416);
\draw (1074,388) -- (1074,473) -- (1169,473);
\draw (1069,322) -- (1126,322) -- (1126,423);
\draw (1069,322) -- (1069,331);
\draw (1069,350) -- (1069,357);
\draw (1091,379) -- (1069,345);
\draw (1106,357) -- (1106,369);
\draw (1106,388) -- (1106,437);
\draw (1106,455) -- (1106,515);
\draw (1106,423) -- (1200.5,423);
\draw (1106,432) -- (1135,432) -- (1135,515);
\draw (1119,378) -- (1139,378) -- (1139,412) -- (1119,412);
\draw (1176,423) -- (1176,453);
\draw (1200.5,314) -- (1200.5,423);
\draw (1098,623) -- (1098,596) -- (1169,596);
\draw (1113,596) -- (1113,623);
\draw (1183,593) -- (1183,649);
\draw (1052,484) -- (1052,495);
\draw (973,357) -- (973,384);
\draw[leader] (882,455) -- (928,484);
\draw[leader] (753.8,589) -- (761.5,558.5);
\draw[leader] (1040.5,325) -- (1085.5,372);
\draw[line width=1.5pt, fill=white] (847,418.8) -- (885.5,445.4) -- (847,473) -- cycle;
\pic (Q509) at (824,327.4) {trans};
\pic (c45) at (829,304) {term};
\pic (R531) at (790.5,332) {fuseh};
\pic (Q511) at (749,396) {trans};
\pic (g511) at (755,416.6) {gnd};
\pic (R533) at (800,357) {resh};
\pic (c502) at (724,404.5) {term};
\pic (R502) at (724,418) {resv};
\pic (R503) at (810.5,428) {resh};
\pic (D504) at (811,410.5) {diode};
\pic (C502) at (775.5,489) {platev};
\pic (Q501) at (750.5,466.4) {trans};
\pic (C501) at (720,466.4) {caph};
\pic (R501) at (733,488) {resv};
\pic (C504) at (831.5,446) {capv};
\pic (c13b) at (869,340) {term};
\pic (R505) at (869.5,382) {fusev};
\pic (C513) at (906,402) {caph};
\pic (c13c) at (1052,497) {term};
\pic (D511) at (990.5,327.4) {diode};
\pic[rotate=90] (D513) at (941,336) {zener};
\pic (R515) at (941,385) {resv};
\pic (R526) at (952,416) {resh};
\pic (C517) at (973,370) {elcap};
\pic (g517) at (973,384) {gnd};
\pic (C503) at (815,486) {caph};
\pic (R508) at (857,486) {resh};
\pic (R518) at (891.5,486) {resh};
\pic (g503) at (799.5,475) {gnd};
\pic[rotate=-90] (Q510) at (875.5,519.6) {trans};
\pic (Q502) at (784,558) {trans};
\pic[xscale=-1] (Q503) at (836.5,560) {trans};
\pic (C519) at (746.5,558) {caph};
\pic (g519) at (731,570) {gnd};
\pic (R510) at (808,585.6) {resh};
\pic (R511) at (867.5,585.6) {resh};
\pic (c5V) at (908.5,585.6) {term};
\pic (C525) at (845.5,606) {capv};
\pic (g525) at (845.5,620.8) {gnd};
\pic (R513) at (894,560) {resh};
\pic (g513) at (910,570) {gnd};
\pic (D509) at (931,560) {diode};
\pic[rotate=180] (D508) at (953,560) {diode};
\pic (D510) at (976,560) {diode};
\pic (R534) at (1009,560) {resh};
\pic (R512) at (1056,560) {resh};
\pic (C527) at (1105,542) {caph};
\pic (R522) at (1009,614.6) {resh};
\pic (R523) at (1056,614.6) {resh};
\pic (g523) at (1074,623) {gnd};
\pic (R536) at (1098,609) {resv};
\pic (R532) at (1113,609) {resv};
\pic (g536) at (1098,623) {gnd};
\pic (g532) at (1113,623) {gnd};
\pic (C509) at (1183,632) {capv};
\pic (g509) at (1183,649) {gnd};
\pic (C520) at (885.3,724) {capv};
\pic (C620) at (913,724) {capv};
\pic (g520) at (885.3,735) {gnd};
\pic (g620) at (913,735) {gnd};
\pic (C515) at (1025,341) {caph};
\pic (R516) at (1017,370) {resv};
\pic (Q504) at (1012.8,395) {trans};
\pic (Q505) at (1012.8,438) {trans};
\pic (R517) at (1017,468) {resv};
\pic (R530) at (1038,371) {resv};
\pic (C506) at (1045,398) {capv};
\pic (C507) at (1045,432) {capv};
\pic[rotate=90] (D501) at (1062,399) {zener};
\pic[rotate=90] (D502) at (1062,427) {zener};
\pic (Q507) at (1064,340.6) {trans};
\pic (Q512) at (1100.5,378.5) {trans};
\pic (Q508) at (1100.5,446) {trans};
\pic[rotate=90] (D512) at (1106,402) {zener};
\pic (C518) at (1106,498) {capv};
\pic (g518) at (1106,515) {gnd};
\pic (R5a) at (1119,394) {resv};
\pic (C511) at (1139,395) {platev};
\pic[rotate=90] (D505) at (1126,342) {zener};
\pic[rotate=90] (D507) at (1135,453) {zener};
\pic (C512) at (1135,500) {elcap};
\pic (g512) at (1135,515) {gnd};
\pic (L501) at (1147,420) {coilh};
\pic (C514) at (1176,440) {platev};
\pic (g514) at (1176,453) {gnd};
\pic (R521) at (1200.5,345) {resv};
\pic[rotate=90] (D514) at (1200.5,388) {zener};
\pic[rotate=180] (D506) at (1190,423) {diode};
\pic (R520) at (1111,284) {resh};
\pic (g520b) at (1094,290) {gnd};
\draw (1094,284) -- (1094,290);
\node[pinc] (n4) at (748,595.4) {4};
\node[pinc] (n5) at (1166,406) {5};
\node[pinc] (n2) at (395,275) {2};
\draw[leader] (393,280) -- (387,288);
\node[bigbox, minimum width=24mm, minimum height=8.5mm, boldlbl] (IC501A) at (967.5,473.5) {IC501A};
\node[boldlbl] (tBAb) at (962,495) {BA10393};
\node[boldlbl] (tIXb) at (961,507) {IX1556BM};
\node[lbl] (tR531) at (779,298) {R531};
\node[lbl, font=\fontsize{10.5}{10}\selectfont] (t390) at (762,307) {390\_1/2W};
\node[lbl, font=\fontsize{10.5}{10}\selectfont] (tXZ0231) at (747,316.6) {XZ0231BM};
\node[lbl] (t45Vb) at (815,293) {+45V};
\node[lbl] (tQ509) at (836,298) {Q509\\[-2.5pt]2SB1561\\[-2.5pt]TX0149(BL)};
\node[lbl] (tD511) at (983,315) {D511};
\node[lbl] (tDX0551a) at (974,335) {DX0551};
\node[lblr] (tD513) at (929.5,329) {D513\\DX0551};
\node[lbl] (tC515) at (1016,330) {C515};
\node[lbl] (t1n) at (1021,348) {1n};
\node[lblr] (tQ507) at (1049,307) {Q507\\[-3pt]2SA1797Q\\[-3pt]TX0147(AG)};
\node[lblr] (tQ512) at (1105,307) {Q512\\[-3pt]2SA1900};
\node[lbl] (tTX0150) at (1072,324) {TX0150(AL)};
\node[lbl] (tD512) at (1091,331) {D512};
\node[lbl] (tDX0528b) at (1081,340) {DX0528\\1N4934};
\node[lbl] (tD505) at (1132,338) {D505\\DX0533\\1N5819};
\node[lbl, font=\fontsize{11.5}{11}\selectfont] (tCQ) at (965,347) {CQ5081N4004};
\node[lbl] (tC517) at (950,358) {C517};
\node[lbl, font=\fontsize{10.5}{10}\selectfont] (t22u) at (943,366) {22u/25V};
\node[lbl] (tR505) at (892,365) {R505\\100\_1/3W\\XZ0T24BM};
\node[lbl] (tR533) at (792,362) {R533\\ 22k};
\node[lblr] (tR516) at (1008,363) {R516\\270\\1/4W};
\node[lbl] (tR530) at (1043,364) {R530\\680\_1/2W};
\node[lbl] (tC511) at (1129,365) {C511\\100n};
\node[lbl] (tC524) at (1145,385) {C524\\680n};
\node[lbl] (tR515) at (945,379) {R515\\10k};
\node[lbl] (tC513) at (899,390) {C513};
\node[lbl] (t100nb) at (900,406) {100n};
\node[lbl] (tD504) at (800,397) {D504};
\node[lbl] (tDX0551b) at (818,399) {DX0551};
\node[lbl] (tQ511) at (763,383) {Q511\\2SC2412};
\node[lbl] (t150d) at (706,387) {+150V};
\node[lblr] (tQ504) at (995.5,394) {Q504\\2SC2412};
\node[lbl] (tC506) at (1024,390) {C506\\22n};
\node[lbl] (tD501) at (1075,390) {D501\\C18\\EX0558};
\node[lbl] (tR526) at (943,404) {R526};
\node[lbl] (t2k2c) at (946,420) {2k2};
\node[lbl] (tC507) at (1025,420) {C507\\22n};
\node[lbl] (tD502) at (1075,412) {D502\\C18\\EX0558};
\node[lbl] (tQ505) at (978,436) {Q505};
\node[lbl] (t2SA) at (966,449) {2SA1037};
\node[lbl] (tR502) at (716,432) {R502};
\node[lblr] (t100k) at (754,431) {100k\\1/2W};
\node[lbl] (tR503) at (800,433) {R503\\10k};
\node[lblr] (tC504) at (822,450) {C504\\330p};
\node[lblr] (tQ501) at (738,445) {Q501\\2SC2412};
\node[lbl] (tC501) at (708,471) {C501\\680p};
\node[lbl] (tR501) at (710,501) {R501\\5k6};
\node[lbl] (tC502) at (754,507) {C502\\33n};
\node[lbl] (tC503) at (804,491) {C503\\4n7};
\node[lbl] (tR508) at (845,489) {R508\\10k};
\node[lbl] (tR518) at (882,489) {R518\\3k3};
\node[lbl] (tR517) at (1021,463) {R517\\270\_1/4W};
\node[lbl] (t2SD) at (1066.5,478) {2SD2391Q};
\node[lbl] (tDT) at (1084,489) {(DT)};
\node[lbl] (tQ508) at (1080.5,458) {Q508\\TX0151};
\node[lbl] (tD507) at (1139.5,446) {D507\\DX0528\\1N4934};
\node[lbl] (tL501) at (1139,412) {L501};
\node[lbl] (t1mHb) at (1139,426) {1mH};
\node[lbl, font=\fontsize{11}{10}\selectfont] (tP0105) at (1138,435) {P0105CE};
\node[lbl] (tC514) at (1172,457) {C514\\470n};
\node[lbl] (tC512) at (1141,497) {C512\\1u};
\node[lbl] (tC518) at (1094,519) {C518\\220n};
\node[lbl] (tR521) at (1178,330) {R521\\1k};
\node[lbl] (tD514) at (1178,400) {D514};
\node[lbl] (tDX0551c) at (1200,400) {DX0551};
\node[lbl] (tD506) at (1193,424) {D506\\[-3pt]C24\\[-3pt]EX0561};
\node[lbl] (tm13Vb) at (1043,502) {-13V};
\node[lbl] (t13Vc) at (874,335) {+13V};
\node[lbl] (tQ510) at (841,516) {Q510};
\node[lbl] (t2SC) at (833,527) {2SC2412};
\node[lbl] (tQ502) at (767,539) {Q502};
\node[lbl] (t2x2SA) at (788,537) {2x2SA1037};
\node[lbl] (tQ503) at (834.5,539) {Q503};
\node[lbl] (tC519) at (738,562) {C519};
\node[lbl] (t10n) at (739,571) {10n};
\node[lbl] (tR513) at (886,548) {R513};
\node[lbl] (t1k2) at (886,566) {1k2};
\node[lbl] (tD509) at (919,545) {D509};
\node[lbl] (tD510) at (964,545) {D510};
\node[lbl] (tD508) at (942,565) {D508\\[-2pt]3xDX0551};
\node[lbl] (tR534) at (1001,548) {R534};
\node[lbl] (t330) at (1003,566) {330};
\node[lbl] (tR512) at (1048,550) {R512};
\node[lbl] (t1kc) at (1051,565) {1k};
\node[lbl] (tC527) at (1095.5,548) {C527\\100P};
\node[lbl] (tR511) at (859.5,575) {R511};
\node[lbl] (t8k2) at (861,589) {8k2};
\node[lbl] (tR510) at (796.5,590) {R510\\220};
\node[lbl] (t5Vb) at (915,582) {+5V};
\node[lbl] (tC525) at (852.8,600) {C525\\1n};
\node[lbl] (tR522) at (1001,603) {R522};
\node[lbl] (t1k2b) at (1002,618) {1k2};
\node[lbl] (tR523) at (1048,603) {R523};
\node[lbl] (t47) at (1052,618) {47\\1/2W};
\node[lblr] (tR536) at (1090,586) {R536\\330\\1/2W};
\node[lbl] (tR532) at (1118,603) {R532\\330\\ 1/2W};
\node[lbl] (tC509) at (1184,625) {C509\\1n};
\node[lbl] (tR520) at (1100,289) {R520};
\node[lbl] (t3k3) at (1103,296) {3k3};
\node[lbl] (tC520) at (873,737) {C520\\10n};
\node[lbl] (tC620) at (920,726) {C620\\100n};

% === D207 and keyboard lines ===
\draw (1224.5,522) -- (1258,522) -- (1258,530);
\pic[rotate=180] (D207) at (1242,522) {zener};
\pic (g207) at (1258,530) {gnd};
\node[lbl] (tD207) at (1238,508) {D207};
\node[lbl] (t8V2) at (1235.5,531) {8V2\\[-3pt]EX0550BM};
\draw (1092,795) -- (1092,829.3);
\draw (1131.7,795) -- (1131.7,829.3);
\draw (1156.7,795) -- (1156.7,829.3);
\draw (1178,820.5) -- (1178,793.6) -- (1190,793.6);
\draw (1199,816) -- (1199,808) -- (1227,808) -- (1227,816);
\pic (R1041) at (1092,795.7) {resv};
\pic (R1039) at (1131.7,795.7) {resv};
\pic (R1038) at (1156.7,795.7) {resv};
\pic (r1a) at (1092,810.8) {term};
\pic (r1b) at (1092,822) {term};
\pic (r2a) at (1131.7,810.8) {term};
\pic (r2b) at (1131.7,822) {term};
\pic (r3a) at (1156.7,810.8) {term};
\pic (r3b) at (1156.7,822) {term};
\pic (r4a) at (1178,799) {term};
\pic (r4b) at (1178,810.8) {term};
\pic[rotate=90] (g614b) at (1190,793.6) {gnd};
\pic (C614) at (1213,807.8) {caph};
\pic (g614c) at (1199,816.4) {gnd};
\pic (g614d) at (1227,816.4) {gnd};
\node[lbl] (tR1041) at (1093.6,737) {R1041};
\node[lbl] (t220a) at (1094,753) {220};
\node[lbl] (tR1039) at (1133,753) {R1039};
\node[lbl] (t220b) at (1133,769) {220};
\node[lbl] (tR1038) at (1158.6,769) {R1038};
\node[lbl] (t220c) at (1161,783) {220};
\node[lbl] (tIRb) at (1211,741) {IR};
\node[lbl] (tSCLb) at (1210,756) {SCL};
\node[lbl] (tSDAb) at (1210,771) {SDA};
\node[lbl] (tC614) at (1205,796) {C614};
\node[lbl] (t1nb) at (1206,814) {1n};

% === IC801 ===
\draw (1316,160) -- (1323.6,152.5) -- (1427,152.5);
\draw (1316,194) -- (1323.6,186.4) -- (1427,186.4);
\draw (1316,217) -- (1323.6,209) -- (1427,209);
\draw (1316,239) -- (1323.6,231.3) -- (1427,231.3);
\draw (1378,164) -- (1427,164);
\draw (1378,164) -- (1378,244);
\draw (1397.5,175.4) -- (1427,175.4);
\draw (1397.5,175.4) -- (1397.5,133) -- (1568,133);
\draw (1386,197.7) -- (1427,197.7);
\draw (1386,197.7) -- (1386,126.4) -- (1568,126.4);
\draw (1391.6,220) -- (1427,220);
\draw (1391.6,220) -- (1391.6,140) -- (1568,140);
\draw (1375,256.3) -- (1375,292);
\path[draw, fill=white, line width=2.2pt] (1427,147.4) rectangle (1572,235.3);
\pic (C839) at (1360,152.5) {caph};
\pic (C836) at (1360,186.4) {caph};
\pic (C837) at (1360,209) {caph};
\pic (g801b) at (1378,244) {gnd};
\pic (C816) at (1375,275) {capv};
\pic (g816) at (1375,292) {gnd};
\node[bigbox, minimum width=32.5mm, minimum height=12mm, font=\fontsize{30}{30}\selectfont] (IC801) at (1496.5,166) {IC801};
\node[inner sep=0pt, font=\fontsize{31.5}{31.5}\selectfont\bfseries] (tTEA) at (1497,194) {TEA5114};
\node[inner sep=0pt, font=\fontsize{27.5}{27.5}\selectfont\bfseries] (tIX1460) at (1495,216) {IX1460BM};
\node[lbl] (q1) at (1419,142) {1};
\node[lbl] (q2) at (1419,153) {2};
\node[lbl] (q3) at (1419,164) {3};
\node[lbl] (q4) at (1419,175) {4};
\node[lbl] (q5) at (1419,187) {5};
\node[lbl] (q6) at (1419,199) {6};
\node[lbl] (q7) at (1419,210) {7};
\node[lbl] (q8) at (1419,220) {8};
\node[lbl] (sR1) at (1431,149) {R1IN};
\node[lbl] (sGND) at (1431,160) {GND};
\node[lbl] (sR2) at (1431,171.5) {R2IN};
\node[lbl] (sG1) at (1431,182.5) {G1IN};
\node[lbl] (sG2) at (1431,194) {G2IN};
\node[lbl] (sB1) at (1431,205) {B1IN};
\node[lbl] (sB2) at (1431,216) {B2IN};
\node[lbl] (sFB1) at (1431,225.5) {FB1IN};
\node[lblr] (sROUT) at (1566,149) {ROUT};
\node[lblr] (sFBRIN) at (1566,160) {FBRIN};
\node[lblr] (sVCC) at (1566,171.5) {VCC};
\node[lblr] (sGOUT) at (1566,182.5) {GOUT};
\node[lblr] (sFBGIN) at (1566,194) {FBGIN};
\node[lblr] (sBOUT) at (1566,205) {BOUT};
\node[lblr] (sFBIN) at (1566,216) {FBIN};
\node[lblr] (sFBOUT) at (1566,225.5) {F BOUT};
\node[lbl] (tC839) at (1351,139) {C839};
\node[lbl] (t3x220) at (1323.6,161) {3x220n/25V};
\node[lbl] (tC836) at (1352.6,174) {C836};
\node[lbl] (tC837) at (1351,197) {C837};
\node[lbl] (tC816) at (1379.5,266) {C816\\[-3pt]1n};

% === Picture tube socket ===
\draw[line width=2pt] (1470.7,7) -- (1470.7,42);
\draw[line width=2pt] (1470.7,42) -- (1470.7,66) -- (1561,66);
\draw (1456,18) -- (1465,18) (1456,36) -- (1465,36);
\draw (1505.7,66) -- (1505.7,95);
\draw (1524,66) -- (1524,80) (1542,66) -- (1542,80) (1561,66) -- (1561,80);
\node[pinc] (d41) at (1470.7,1.3) {41};
\node[pinc] (d42) at (1470.7,18) {42};
\node[pinc] (d43) at (1470.7,36) {43};
\node[pinc] (d44) at (1505.7,66) {44};
\node[pinc] (d45) at (1524,66) {45};
\node[pinc] (d46) at (1542,66) {46};
\node[pinc] (d47) at (1561,66) {47};
\pic (g44) at (1505.7,95) {gnd};
\node[lbl] (sD0) at (1481,-3) {D0};
\node[lbl] (sD2) at (1481,15) {D2};
\node[lbl] (sD3) at (1481,33) {D3};
\node[rlbl] (sVSS) at (1506,47) {VSS4};
\node[rlbl] (sCASQ) at (1524,47) {CASQ};
\node[rlbl] (sNCa) at (1542,50) {NC};
\node[rlbl] (sNCb) at (1561,50) {NC};
\node[rlbl] (sBLa) at (1516,540) {BLACK STR};
\node[rlbl] (sBLb) at (1518,705) {BLACK STR};
\pic (w5a) at (1478.8,432.4) {term};
\pic (w5b) at (1478.8,446) {term};
\pic (w5c) at (1492.8,432.4) {term};
\pic (w5d) at (1492.8,446) {term};
\draw (1478.8,434) -- (1478.8,444) (1492.8,434) -- (1492.8,444);

% === Bottom right ===
\draw (1492.8,840) -- (1480,840) -- (1480,876);
\draw (1492.8,889) -- (1480,889) -- (1480,920);
\draw (1440.7,1107.6) -- (1440.7,991.4) -- (1504,991.4);
\draw (1430,1121) -- (1430,1107.6) -- (1568,1107.6);
\draw (1481.7,1107.6) -- (1481.7,1162);
\draw (1511,1028) -- (1511,1107.6);
\draw (1515,1107.6) -- (1515,1141);
\draw (1526.4,1107.6) -- (1526.4,1162);
\draw (1560,1107.6) -- (1560,1141);
\draw (1538,1068) -- (1528,1068) -- (1528,1094);
\draw (1549.5,973) -- (1549.5,1162);
\draw (1532,982) -- (1532,973) -- (1568,973);
\draw (1549.5,1068) -- (1559,1068) -- (1559,1094);
\draw[line width=2.2pt] (1568,1127) -- (1457,1127) -- (1457,1136) .. controls (1470,1142) and (1478,1150) .. (1481.7,1163);
\draw[line width=2.2pt] (1481.7,1172) -- (1481.7,1186) -- (1568,1186);
\pic (R250) at (1480,860) {resv};
\pic (g250) at (1480,876) {gnd};
\pic[rotate=90] (D402) at (1480,906) {zener};
\pic (g402) at (1480,920) {gnd};
\pic (R407) at (1504,930) {resv};
\pic[rotate=180] (D401) at (1464,991.4) {zener};
\pic (gTube) at (1430,1121) {gnd};
\pic (R444) at (1480,1028) {resh};
\pic (R410) at (1511,1040) {resv};
\pic[rotate=90] (D409) at (1528,1084) {zener};
\pic (g409) at (1528,1094) {gnd};
\pic[rotate=90] (D4x) at (1559,1084) {zener};
\pic (g4x) at (1559,1094) {gnd};
\pic (R847) at (1549.5,988) {resv};
\pic (g847) at (1532,982) {gnd};
\pic (R4x) at (1566,1019.4) {resv};
\node[pinc] (s20) at (1492.8,1146.5) {20};
\node[pinc] (s18) at (1515,1146.5) {18};
\node[pinc] (s16) at (1538,1146.5) {16};
\node[pinc] (s14) at (1560,1146.5) {14};
\node[pinc] (s21) at (1481.7,1167.6) {21};
\node[pinc] (s19) at (1504,1167.6) {19};
\node[pinc] (s17) at (1526.4,1167.6) {17};
\node[pinc] (s15) at (1549.5,1167.6) {15};
\node[pinc] (s13) at (1570,1167.6) {13};
\node[lbl, font=\fontsize{10.5}{10}\selectfont] (tVIN) at (1484,1153) {V-IN};
\node[lbl, font=\fontsize{10.5}{10}\selectfont] (tFB) at (1532,1155) {FB};
\node[lbl, font=\fontsize{10.5}{10}\selectfont] (tVOUT) at (1495,1177) {V-OUT};
\node[lbl, font=\fontsize{10.5}{10}\selectfont] (tRs) at (1547,1177) {R};
\node[lbl, font=\fontsize{10.5}{10}\selectfont] (tCZ) at (1470,1192) {CZ2109BM};
\node[lbl] (tR250) at (1456.5,853) {R250\\75\\1/4W};
\node[lblr] (tD402) at (1469,898) {D402\\7V5\\EX0549};
\node[lblc] (tD401) at (1463.7,960) {D401\\7.5V\\EX0412BM};
\node[lbl] (tR407) at (1508.6,921) {R407\\68\_1/2W};
\node[lbl] (tR847) at (1526,985) {R847\\470};
\node[lbl] (tR444) at (1470.5,1033) {R444};
\node[lbl] (t1kd) at (1471,1043) {1k};
\node[lbl] (tR410) at (1515,1033) {R410\\[-2pt]82\\[-2pt]1/4W};
\node[lbl] (tD409) at (1515,1058) {D409};
\node[lbl] (t7V5) at (1511.6,1066) {7V5};
\node[lbl, font=\fontsize{10.5}{10}\selectfont] (tEX0549) at (1512.7,1096) {EX0549};
\node[lbl] (tR4x) at (1561,1023) {R4};
\node[lbl] (t82x) at (1555.7,1031) {82\_};
\node[lbl] (t3x) at (1560.5,1043) {3x};
\node[lbl] (t3xEX) at (1550.5,1053) {3xEX};
\node[lbl] (tD4x) at (1562,1068) {D4};
\node[lbl, font=\fontsize{10}{9}\selectfont] (bB) at (1241,994) {B};
\node[lbl, font=\fontsize{10}{9}\selectfont] (bG) at (1241,1002.5) {G};
\node[lbl, font=\fontsize{10}{9}\selectfont] (bR) at (1241,1012) {R};
\node[lbl, font=\fontsize{10}{9}\selectfont] (bFB) at (1241,1021) {FB};

% === Dots ===
\foreach \dx/\dy in {76/430,141/331,175/331,141/430,175/402,225/402,162/474.5,201/474.5,227/474.5,368/474.5,
  274/396.5,295/396.5,314/396.5,330/396.5,274/427,295/427,274/451,295/451,247/456,341/300,390/482,408/337,408/462,
  482/416,511/416,461/466,520/452,520/503,228/532,228/551,390/551,228/593.5,288/593.5,288/619,368/593.5,
  38/633.5,55/633.5,70/633.5,55/673.4,70/673.4,91/673.4,91/735,140/735,140/647,183/717,313/684.7,281/736,308/736,
  220/787,274/787,358/787,485/694.3,485/752,485/729,919/66,1054.4/66,1054.4/110.5,1012.5/110.5,970.6/122,907.7/218,928.6/218,
  808/15.6,904.7/15.6,971/26.6,971/35,1004/26.6,1074/26.6,1241/15.3,1300/85.5,689/35,680/49,611/49,689/240,648/240,1375/256.3,
  734/396,869/357,941/357,941/327.4,973/357,1017/357,1069/357,1106/357,869/402,869/410.5,941/416,999/416,1017/416,1045/416,1062/416,
  1062/380,1062/446,756.5/428,775.5/428,831.5/428,831.5/462,733/466.4,775.5/498,775.5/505,831.5/486,799.5/486,875.5/486,914/525,
  932/466,1017/484,1052/484,1106/484,1119/484,1135/484,831.5/585.6,845.5/585.6,885.3/560,910/560,992/560,1034/560,761.5/558,
  1034/614.6,929/614.6,885.3/689,913/659,1169/473,1169/542,1169/596,1113/596,1106/423,1106/432,1126/423,1169/423,1176/423,
  1119/378,1119/412,1200.5/409,1224.5/593,1118/284,1492.8/840,1492.8/889,1504/991.4,1440.7/1107.6,1481.7/1107.6,1511/1107.6,1515/1107.6,
  1526.4/1107.6,1560/1107.6,1511/1028,1538/1068,1549.5/973,1549.5/1019.4,1549.5/1068}
  \fill (\dx,\dy) circle[radius=1.8];

% === Watermark ===
\node[inner sep=0pt, rotate=-27, text=black!35, font=\markfont\itshape\fontsize{168}{168}\selectfont] (wmA) at (792,1000) {SERWIS};
\node[inner sep=0pt, rotate=-27, text=white, font=\markthin\itshape\fontsize{168}{168}\selectfont] (wmB) at (792,1000) {SERWIS};
\node[inner sep=0pt, rotate=-23, text=black!40, font=\markfont\bfseries\fontsize{47}{47}\selectfont] (wmC) at (843,1100) {ELEKTRONIKI};
\end{tikzpicture}
\end{document}
